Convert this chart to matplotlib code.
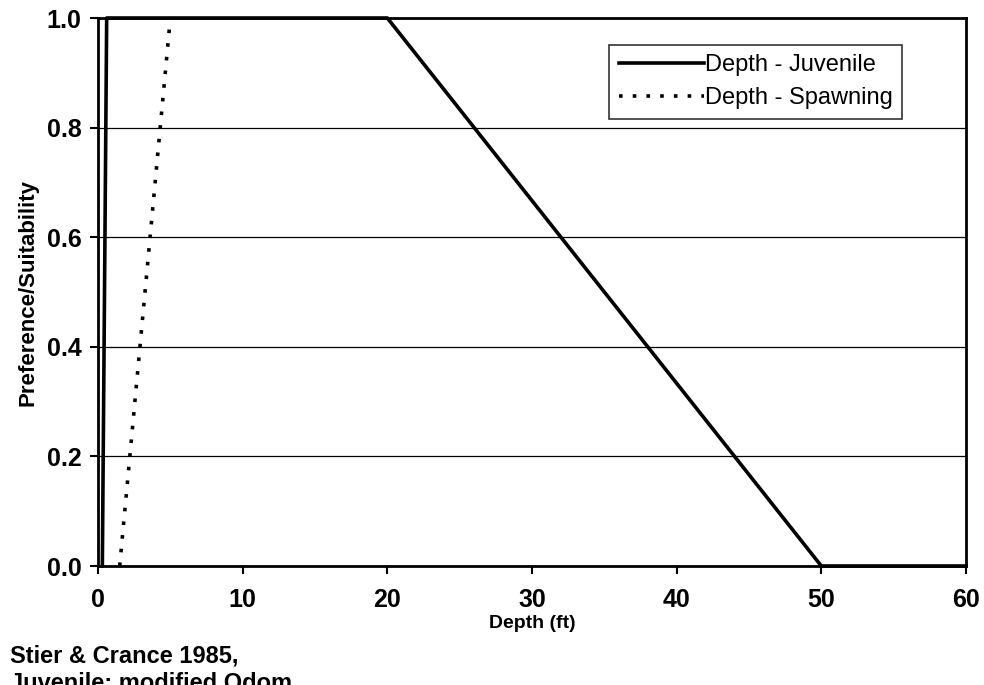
import matplotlib.pyplot as plt

# Data
juv_depth = [0.3, 0.6, 20, 50, 60]
juv_pref = [0.0, 1.0, 1.0, 0.0, 0.0]
spawn_depth = [1.5, 5.0]
spawn_pref = [0.0, 1.0]

plt.rcParams['font.family'] = ['Liberation Sans', 'DejaVu Sans']

fig = plt.figure(figsize=(9.84, 6.85), dpi=100)
ax = fig.add_axes([98 / 984, 1 - 566 / 685, 868 / 984, 548 / 685])

ax.plot(juv_depth, juv_pref, color='black', lw=2.6, label='Depth - Juvenile', clip_on=False)
ax.plot(spawn_depth, spawn_pref, color='black', lw=2.6, linestyle=(0, (1, 2.8)),
        label='Depth - Spawning')

ax.set_xlim(0, 60)
ax.set_ylim(0, 1.0)
ax.set_xticks(range(0, 61, 10))
ax.set_yticks([0, 0.2, 0.4, 0.6, 0.8, 1.0])
ax.set_yticklabels(['0.0', '0.2', '0.4', '0.6', '0.8', '1.0'])
ax.yaxis.grid(True, color='black', lw=0.9)
ax.set_axisbelow(True)

for s in ax.spines.values():
    s.set_linewidth(2)
ax.tick_params(axis='both', labelsize=18, width=1.5, length=6, direction='out')
ax.tick_params(axis='x', pad=10)
ax.tick_params(axis='y', pad=6)
for lab in ax.get_xticklabels() + ax.get_yticklabels():
    lab.set_fontweight('bold')

ax.set_xlabel('Depth (ft)', fontsize=14, fontweight='bold', labelpad=2)
ax.set_ylabel('Preference/Suitability', fontsize=16, fontweight='bold', labelpad=6)

leg = ax.legend(loc='upper right', bbox_to_anchor=(902 / 984, 1 - 45 / 685),
                bbox_transform=fig.transFigure, fontsize=17, fancybox=False,
                frameon=True, handlelength=3.6, handletextpad=0.05, borderpad=0.4,
                labelspacing=0.45, borderaxespad=0)
leg.get_frame().set_edgecolor('black')
leg.get_frame().set_linewidth(1.2)

fig.text(10 / 984, 1 - 644 / 685, 'Stier & Crance 1985,\nJuvenile: modified Odom',
         fontsize=17, fontweight='bold', va='top', linespacing=1.3)

fig.savefig('out.png', dpi=100)
